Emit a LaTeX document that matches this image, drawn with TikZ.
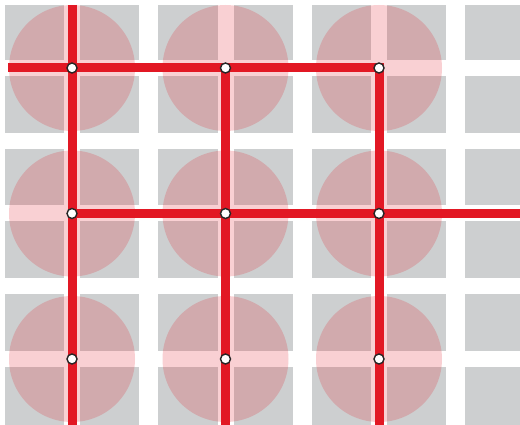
\documentclass[tikz,border=0pt]{standalone}
\usepackage{tikz}
\definecolor{blockgray}{RGB}{205,207,208}
\definecolor{linered}{RGB}{226,24,36}

\begin{document}
\begin{tikzpicture}[x=1pt,y=-1pt,
  gap/.style={white,line width=19pt},
  street/.style={white,line width=16pt},
  plaza/.style={fill=linered,fill opacity=0.2},
  route/.style={linered,line width=9pt},
  stop/.style={circle,draw=black!85,fill=white,line width=1.4pt,inner sep=0pt,minimum size=10pt}]
\useasboundingbox (0,0) rectangle (520,425);
\clip (0,0) rectangle (520,425);
\fill[blockgray] (5,5) rectangle (520,425);
\foreach \x in {148.75,302.25,455.75} \draw[gap] (\x,0)--(\x,425);
\foreach \y in {140.75,286.25} \draw[street] (0,\y)--(520,\y);
\foreach \x in {72,225.5,379} \draw[street] (\x,0)--(\x,425);
\foreach \y in {68,213.5,359} \draw[street] (0,\y)--(520,\y);
\foreach \i/\x in {1/72,2/225.5,3/379}
  \foreach \j/\y in {1/68,2/213.5,3/359} {
    \fill[plaza] (\x,\y) circle (63pt);
    \coordinate (c\i\j) at (\x,\y);
  }
\coordinate (west1) at (8,68);
\coordinate (east2) at (520,213.5);
\coordinate (top1) at (72,5);
\coordinate (foot1) at (72,425);
\coordinate (foot2) at (225.5,425);
\coordinate (foot3) at (379,425);
\draw[route] (west1)--(c11)--(c21)--(c31)--(c32)--(c33)--(foot3);
\draw[route] (c12)--(c22)--(c32)--(east2);
\draw[route] (top1)--(c11)--(c12)--(c13)--(foot1);
\draw[route] (c21)--(c22)--(c23)--(foot2);
\foreach \i in {1,2,3}
  \foreach \j in {1,2,3}
    \node[stop] (n\i\j) at (c\i\j) {};
\end{tikzpicture}
\end{document}
